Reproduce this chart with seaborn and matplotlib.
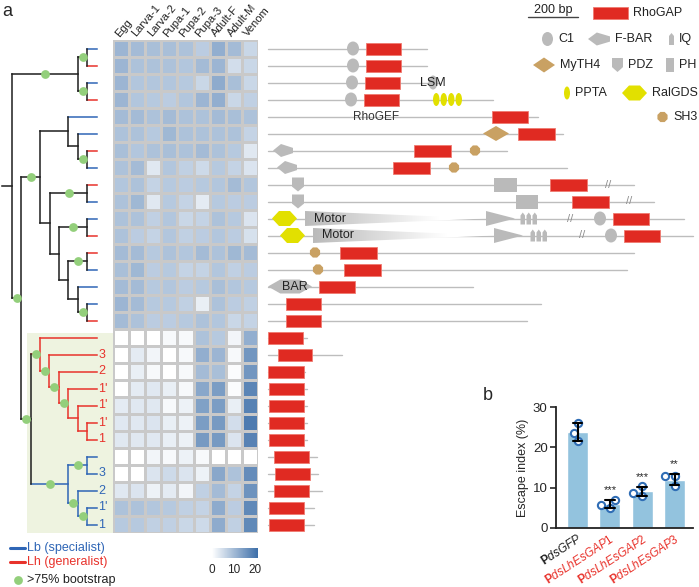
"""RhoGAP family tree, stage expression heatmap, domain maps and escape index bars."""
import matplotlib.pyplot as plt
import numpy as np
import pandas as pd
import seaborn as sns
from matplotlib.colors import LinearSegmentedColormap
from matplotlib.patches import Ellipse, Polygon, Rectangle
from matplotlib.transforms import ScaledTranslation

W, H = 699, 587
ROW_PX = 17

# ---- data -----------------------------------------------------------------
stages = ["Egg", "Larva-1", "Larva-2", "Pupa-1", "Pupa-2", "Pupa-3",
          "Adult-F", "Adult-M", "Venom"]
expression = [
    [11, 10, 9.5, 9.5, 9, 7.5, 12, 10, 6],
    [11, 9, 9, 9, 8.5, 10, 11, 5, 6],
    [11, 8.5, 8.5, 8.5, 8, 6, 12.5, 9.5, 6],
    [11, 8.5, 8, 7.5, 8.5, 11, 12, 6, 7],
    [10, 10, 9, 10, 9, 9, 10, 9.5, 9],
    [9, 9, 8, 10.5, 9, 9, 9, 9, 6.5],
    [9.5, 8.5, 9, 9.5, 9, 10, 9, 8, 3.5],
    [9, 10, 3.5, 8.5, 7, 5.5, 8, 6.5, 4],
    [8.5, 9, 6.5, 8, 7.5, 8, 8.5, 10, 8.5],
    [9, 10.5, 3.5, 8, 6.5, 3, 8, 7.5, 7.5],
    [9, 9, 7, 8.5, 6, 6.5, 9, 8, 4],
    [9, 7.5, 6.5, 8.5, 7, 7.5, 8.5, 7.5, 4.5],
    [10, 10, 8, 9, 8.5, 10, 9, 10.5, 10],
    [9.5, 10.5, 7.5, 8, 6.5, 6.5, 8.5, 7, 7.5],
    [10, 10, 8, 8.5, 7.5, 8, 9.5, 8.5, 8],
    [11, 10, 8, 8, 7, 2.5, 9, 7.5, 7],
    [10, 9, 7.5, 7.5, 8, 9, 8.5, 6, 6.5],
    [0, 0, 0, 1, 1, 9, 8, 1.5, 12],
    [0, 3, 1.5, 0, 1, 12, 11, 1, 15.5],
    [0, 2.5, 1, 0, 1, 10, 9.5, 0.5, 15.5],
    [0, 3, 3.5, 2.5, 1, 13, 14.5, 0.5, 18],
    [3, 3.5, 3.5, 1, 2, 14, 14.5, 2.5, 18.5],
    [3.5, 3.5, 4, 2.5, 2, 14.5, 15, 5, 19.5],
    [3.5, 3.5, 3.5, 2.5, 2, 15, 15, 4, 18.5],
    [0, 0, 1.5, 1, 2, 1, 0, 0, 0],
    [0, 0, 4, 5.5, 4, 2, 13, 9, 17],
    [3.5, 4, 2, 3, 1.5, 7, 10, 6.5, 16],
    [9, 9, 8.5, 8, 7, 6.5, 12.5, 7.5, 17.5],
    [8, 8, 7, 7, 6, 5.5, 12.5, 7, 17.5],
]
lineage = list("BRBRBBRBRBBRRBBBR") + ["R"] * 7 + ["B"] * 5
tip_labels = [""] * 17 + ["", "3", "2", "1'", "1'", "1'", "1",
                          "", "3", "2", "1'", "1"]

# tree: tips are row numbers, nodes are (depth, bootstrap>75%, children)
tree = (12, False, [
    (78, True, [(87, True, [0, 1]), (87, True, [2, 3])]),
    (21, True, [
        (40, True, [
            (68, False, [4, (78, False, [5, (87, True, [6, 7])])]),
            (50, False, [
                (87, True, [8, 9]),
                (59, False, [
                    (87, True, [10, 11]),
                    (68, False, [
                        (87, True, [12, 13]),
                        (78, False, [14, (87, True, [15, 16])]),
                    ]),
                ]),
            ]),
        ]),
        (31, True, [
            (40, True, [17, (49, True, [18, (59, True, [19, (68, True, [
                20, (78, False, [21, (87, False, [22, 23])])])])])]),
            (68, True, [(87, True, [24, 25]),
                        (78, True, [26, (87, True, [27, 28])])]),
        ]),
    ]),
])
TIP_X = 97
ROOT_X = 2

# protein length (bp) and domains (kind, start, end) per row
protein_len = [636, 636, 688, 900, 1080, 1180, 956, 1196, 1464, 1544, 1664,
               1700, 1464, 1436, 820, 1092, 1036, 156, 296, 148, 156, 156,
               156, 156, 196, 200, 216, 184, 184]
domains = [
    [("C1", 316, 364), ("RhoGAP", 392, 532)],
    [("C1", 316, 364), ("RhoGAP", 392, 532)],
    [("C1", 312, 360), ("RhoGAP", 388, 528), ("LSM", 642, 678)],
    [("C1", 308, 356), ("RhoGAP", 384, 524), ("PPTA", 660, 686),
     ("PPTA", 690, 716), ("PPTA", 720, 746), ("PPTA", 750, 776)],
    [("RhoGAP", 896, 1040)],
    [("MyTH4", 860, 964), ("RhoGAP", 1000, 1148)],
    [("F-BAR", 20, 100), ("RhoGAP", 584, 732), ("SH3", 806, 850)],
    [("F-BAR", 36, 116), ("RhoGAP", 500, 648), ("SH3", 722, 766)],
    [("PDZ", 96, 144), ("PH", 904, 996), ("RhoGAP", 1128, 1276),
     ("break", 1350, 1370)],
    [("PDZ", 96, 144), ("PH", 992, 1080), ("RhoGAP", 1216, 1364),
     ("break", 1434, 1454)],
    [("RalGDS", 16, 116), ("Motor", 148, 872), ("MotorEnd", 872, 988),
     ("IQ", 1010, 1028), ("IQ", 1034, 1052), ("IQ", 1058, 1076),
     ("break", 1198, 1218), ("C1", 1304, 1352), ("RhoGAP", 1380, 1524)],
    [("RalGDS", 48, 148), ("Motor", 180, 904), ("MotorEnd", 904, 1020),
     ("IQ", 1050, 1068), ("IQ", 1074, 1092), ("IQ", 1098, 1116),
     ("break", 1246, 1266), ("C1", 1348, 1396), ("RhoGAP", 1424, 1568)],
    [("SH3", 166, 210), ("RhoGAP", 288, 436)],
    [("SH3", 178, 222), ("RhoGAP", 304, 452)],
    [("BAR", 0, 176), ("RhoGAP", 204, 348)],
    [("RhoGAP", 72, 212)],
    [("RhoGAP", 72, 212)],
    [("RhoGAP", 0, 140)],
    [("RhoGAP", 40, 176)],
    [("RhoGAP", 0, 144)],
    [("RhoGAP", 4, 144)],
    [("RhoGAP", 4, 144)],
    [("RhoGAP", 4, 144)],
    [("RhoGAP", 4, 144)],
    [("RhoGAP", 24, 164)],
    [("RhoGAP", 28, 168)],
    [("RhoGAP", 24, 164)],
    [("RhoGAP", 4, 144)],
    [("RhoGAP", 4, 144)],
]

groups = ["dsGFP", "dsLhEsGAP1", "dsLhEsGAP2", "dsLhEsGAP3"]
escape = [[26.0, 23.6, 21.5], [5.0, 7.0, 5.6], [8.0, 10.4, 8.8],
          [12.8, 10.4, 12.8]]
signif = ["", "***", "***", "**"]

# ---- style ----------------------------------------------------------------
BLUE = "#2f66b6"
RED = "#e8322b"
BLACK = "#1e1e1e"
GREEN = "#93cf7b"
GRAY = "#bababa"
LINE_GRAY = "#bdbdbd"
TAN = "#c9a163"
YELLOW = "#e2e000"
GAP_RED = "#e02a22"
LINE_COL = {"B": BLUE, "R": RED}

SHAPE_H = {"RhoGAP": 12, "C1": 14, "LSM": 14, "PPTA": 13, "MyTH4": 15,
           "SH3": 11, "F-BAR": 13, "PDZ": 14, "PH": 14, "RalGDS": 15,
           "BAR": 14, "Motor": 15, "MotorEnd": 15, "IQ": 12, "break": 10}
SHAPE_FC = {"RhoGAP": GAP_RED, "C1": GRAY, "LSM": GRAY, "PPTA": YELLOW,
            "MyTH4": TAN, "SH3": TAN, "F-BAR": GRAY, "PDZ": GRAY, "PH": GRAY,
            "RalGDS": YELLOW, "BAR": GRAY, "Motor": GRAY, "MotorEnd": GRAY,
            "IQ": GRAY}

sns.set_style("white")
plt.rcParams["font.family"] = ["Liberation Sans", "DejaVu Sans"]
plt.rcParams["mathtext.fontset"] = "custom"
plt.rcParams["mathtext.rm"] = "Liberation Sans"
plt.rcParams["mathtext.it"] = "Liberation Sans:italic"
plt.rcParams["mathtext.bf"] = "Liberation Sans:bold"


def px_rect(x0, y0, x1, y1):
    """Figure rect from pixel box (top-left origin)."""
    return [x0 / W, 1 - y1 / H, (x1 - x0) / W, (y1 - y0) / H]


def subtree_tips(node):
    if isinstance(node, int):
        return [node]
    return [t for kid in node[2] for t in subtree_tips(kid)]


def branch_color(node):
    cols = {lineage[t] for t in subtree_tips(node)}
    return LINE_COL[cols.pop()] if len(cols) == 1 else BLACK


def draw_node(ax, node, parent_x):
    """Draw a node and its branch, return its y."""
    col = branch_color(node)
    kw = dict(color=col, lw=1.1, solid_capstyle="projecting", zorder=2)
    if isinstance(node, int):
        y = node + 0.5
        ax.plot([parent_x, TIP_X], [y, y], **kw)
        return y
    x, support, kids = node
    ys = [draw_node(ax, kid, x) for kid in kids]
    y = (ys[0] + ys[-1]) / 2
    ax.plot([x, x], [ys[0], ys[-1]], **kw)
    ax.plot([parent_x, x], [y, y], **kw)
    if support:
        ax.scatter((parent_x + x) / 2, y, s=40, color=GREEN, zorder=3,
                   linewidths=0)
    return y


def draw_shape(ax, kind, x0, x1, y, ys):
    """Draw one domain glyph; ys converts pixel heights to y units."""
    h = SHAPE_H[kind] * ys
    w = x1 - x0
    xc = (x0 + x1) / 2
    fc = SHAPE_FC.get(kind, GRAY)
    if kind == "break":
        ax.text(xc, y, "//", ha="center", va="center", fontsize=8,
                color="#8c8c8c", zorder=4)
        return
    if kind == "RhoGAP":
        patch = Rectangle((x0, y - h / 2), w, h, fc=fc, ec="#f07a70", lw=0.6)
    elif kind == "PH":
        patch = Rectangle((x0, y - h / 2), w, h, fc=fc, ec="none")
    elif kind in ("C1", "LSM", "PPTA"):
        patch = Ellipse((xc, y), w, h, fc=fc, ec="none")
    else:
        if kind == "MyTH4":
            pts = [(x0, y), (xc, y - h / 2), (x1, y), (xc, y + h / 2)]
        elif kind == "SH3":
            ang = np.deg2rad(np.arange(22.5, 360, 45))
            pts = np.column_stack([xc + w / 2 * np.cos(ang),
                                   y + h / 2 * np.sin(ang)])
        elif kind == "F-BAR":
            pts = [(x0, y), (x0 + 0.4 * w, y - h / 2), (x1, y - 0.2 * h),
                   (x1, y + 0.2 * h), (x0 + 0.4 * w, y + h / 2)]
        elif kind == "PDZ":
            pts = [(x0, y - h / 2), (x1, y - h / 2), (x1, y + 0.15 * h),
                   (xc, y + h / 2), (x0, y + 0.15 * h)]
        elif kind in ("RalGDS", "BAR"):
            pts = [(x0, y), (x0 + 0.28 * w, y - h / 2),
                   (x1 - 0.28 * w, y - h / 2), (x1, y),
                   (x1 - 0.28 * w, y + h / 2), (x0 + 0.28 * w, y + h / 2)]
        elif kind == "MotorEnd":
            pts = [(x0, y - h / 2), (x1, y), (x0, y + h / 2)]
        elif kind == "IQ":
            pts = [(xc, y - h / 2), (x1, y - h / 4), (x1, y + h / 2),
                   (x0, y + h / 2), (x0, y - h / 4)]
        elif kind == "Motor":
            pts = [(x0, y - h / 2), (x1, y), (x0, y + h / 2)]
        patch = Polygon(pts, closed=True, fc=fc, ec="none")
    if kind == "Motor":
        patch.set_facecolor("none")
        ax.add_patch(patch)
        fade = LinearSegmentedColormap.from_list("fade", [GRAY, "white"])
        grad = np.clip(np.linspace(0, 1.35, 256), 0, 1)[None, :]
        im = ax.imshow(grad, cmap=fade, extent=[x0, x1, y + h / 2, y - h / 2],
                       aspect="auto", zorder=2, interpolation="bilinear")
        im.set_clip_path(patch)
        return
    patch.set_zorder(3)
    ax.add_patch(patch)


fig = plt.figure(figsize=(W / 100, H / 100), dpi=100)

# ---- heatmap --------------------------------------------------------------
ax_heat = fig.add_axes(px_rect(113, 40, 258, 533))
cbar_ax = fig.add_axes(px_rect(212, 548, 258, 558))
cmap = LinearSegmentedColormap.from_list("expr", ["#ffffff", "#3c6ea8"])
expr_df = pd.DataFrame(expression, columns=stages)
sns.heatmap(expr_df, ax=ax_heat, cmap=cmap, vmin=0, vmax=21.5,
            linewidths=0.8, linecolor="#c9c9c9", yticklabels=False,
            cbar_ax=cbar_ax,
            cbar_kws={"orientation": "horizontal", "ticks": [0, 10, 20]})
ax_heat.xaxis.set_ticks_position("top")
ax_heat.set_xticklabels(stages, rotation=50, ha="left", va="bottom",
                        rotation_mode="anchor", fontsize=8, color="#222222")
ax_heat.tick_params(axis="x", length=0, pad=1)
ax_heat.tick_params(axis="y", length=0)
ax_heat.set_xlabel("")
ax_heat.set_ylabel("")
cbar_ax.tick_params(length=0, labelsize=8.5, pad=4)
cbar = ax_heat.collections[0].colorbar
if cbar is not None:
    cbar.outline.set_visible(False)
for spine in cbar_ax.spines.values():
    spine.set_visible(False)

# ---- tree -----------------------------------------------------------------
ax_tree = fig.add_axes(px_rect(0, 40, 113, 533))
ax_tree.add_patch(Rectangle((27, (333 - 40) / ROW_PX), 86,
                            29 - (333 - 40) / ROW_PX, fc="#eef3e0",
                            ec="none", zorder=0))
root_y = draw_node(ax_tree, tree, ROOT_X)
for k, lab in enumerate(tip_labels):
    if lab:
        ax_tree.text(98.5, k + 0.5, lab, color=LINE_COL[lineage[k]],
                     fontsize=9, ha="left", va="center")
ax_tree.set_xlim(0, 113)
ax_tree.set_ylim(29, 0)
ax_tree.axis("off")

# ---- domain architecture --------------------------------------------------
ax_dom = fig.add_axes(px_rect(265, 40, 699, 533))
for k, (length, doms) in enumerate(zip(protein_len, domains)):
    y = k + 0.5
    ax_dom.plot([0, length], [y, y], color=LINE_GRAY, lw=1.0, zorder=1)
    for kind, x0, x1 in doms:
        draw_shape(ax_dom, kind, x0, x1, y, 1 / ROW_PX)
ax_dom.text(660, 2.5, "LSM", ha="center", va="center", fontsize=9,
            color="#222222", zorder=5)
ax_dom.text(432, 4.5, "RhoGEF", ha="center", va="center", fontsize=8.5,
            color="#333333", zorder=5)
ax_dom.text(184, 10.5, "Motor", ha="left", va="center", fontsize=9,
            color="#222222", zorder=5)
ax_dom.text(216, 11.5, "Motor", ha="left", va="center", fontsize=9,
            color="#222222", zorder=5)
ax_dom.text(56, 14.5, "BAR", ha="left", va="center", fontsize=9,
            color="#222222", zorder=5)
# 200 bp scale bar
ax_dom.plot([1040, 1240], [(17 - 40) / ROW_PX] * 2, color="#444444",
            lw=1.0, clip_on=False)
ax_dom.set_xlim(-12, 1724)
ax_dom.set_ylim(29, 0)
ax_dom.axis("off")

# ---- bar chart ------------------------------------------------------------
bar_df = pd.DataFrame({
    "group": [g for g, vals in zip(groups, escape) for _ in vals],
    "escape": [v for vals in escape for v in vals],
})
ax_bar = fig.add_axes(px_rect(556, 407, 693, 528))
sns.barplot(data=bar_df, x="group", y="escape", order=groups,
            color="#87c7ea", width=0.65, errorbar="sd", capsize=0.3,
            err_kws={"color": "black", "linewidth": 1.5}, ax=ax_bar)
sns.swarmplot(data=bar_df, x="group", y="escape", order=groups, size=5.2,
              color="white", edgecolor="#2f6db5", linewidth=1.5, ax=ax_bar)
for line in ax_bar.lines:
    line.set_zorder(5)
for i, vals in enumerate(escape):
    if signif[i]:
        top = np.mean(vals) + np.std(vals, ddof=1)
        ax_bar.text(i, top + 2.4, signif[i], ha="center", va="center",
                    fontsize=8)
ax_bar.set_xlim(-0.67, 3.57)
ax_bar.set_ylim(0, 30)
ax_bar.set_yticks([0, 10, 20, 30])
ax_bar.set_xlabel("")
ax_bar.set_ylabel("Escape index (%)", fontsize=9, labelpad=3)
ax_bar.set_xticks(range(len(groups)))
ax_bar.set_xticklabels([rf"$\mathbf{{P}}\mathit{{{g}}}$" for g in groups],
                       rotation=33, ha="right", va="top",
                       rotation_mode="anchor", fontsize=8.5)
shift = ScaledTranslation(6 / 72, 0, fig.dpi_scale_trans)
for lbl, col in zip(ax_bar.get_xticklabels(), [BLACK, RED, RED, RED]):
    lbl.set_color(col)
    lbl.set_transform(lbl.get_transform() + shift)
ax_bar.tick_params(axis="x", length=0, pad=3)
ax_bar.tick_params(axis="y", length=4, width=1.2, labelsize=9.5, pad=2,
                   direction="out", left=True)
sns.despine(ax=ax_bar)
for side in ("left", "bottom"):
    ax_bar.spines[side].set_linewidth(1.3)
    ax_bar.spines[side].set_color("#222222")

# ---- legends and panel letters (pixel overlay) ----------------------------
ax_over = fig.add_axes([0, 0, 1, 1])
ax_over.set_xlim(0, W)
ax_over.set_ylim(H, 0)
ax_over.axis("off")
ax_over.text(2, 12, "a", fontsize=13, va="center")
ax_over.text(483, 396, "b", fontsize=13, va="center")

leg_items = [
    ("RhoGAP", 593, 628, 13), ("C1", 542, 553, 39), ("F-BAR", 588, 610, 39),
    ("IQ", 669, 674, 39), ("MyTH4", 533, 555, 65), ("PDZ", 612, 623, 65),
    ("PH", 666, 674, 65), ("PPTA", 564, 570, 93), ("RalGDS", 622, 647, 93),
    ("SH3", 657, 668, 117),
]
for kind, x0, x1, y in leg_items:
    draw_shape(ax_over, kind, x0, x1, y, 1)
    ax_over.text(x1 + 5, y, kind, fontsize=9, va="center", color="#222222")
ax_over.text(553, 16, "200 bp", fontsize=9, ha="center", va="bottom",
             color="#222222")

ax_over.plot([10, 25], [548, 548], color=BLUE, lw=2.2)
ax_over.text(27, 548, "Lb (specialist)", color=BLUE, fontsize=9, va="center")
ax_over.plot([10, 25], [562, 562], color=RED, lw=2.2)
ax_over.text(27, 562, "Lh (generalist)", color=RED, fontsize=9, va="center")
ax_over.scatter(18, 580, s=40, color=GREEN, linewidths=0)
ax_over.text(27, 580, ">75% bootstrap", color="#222222", fontsize=9,
             va="center")

fig.savefig("out.png", dpi=100)
